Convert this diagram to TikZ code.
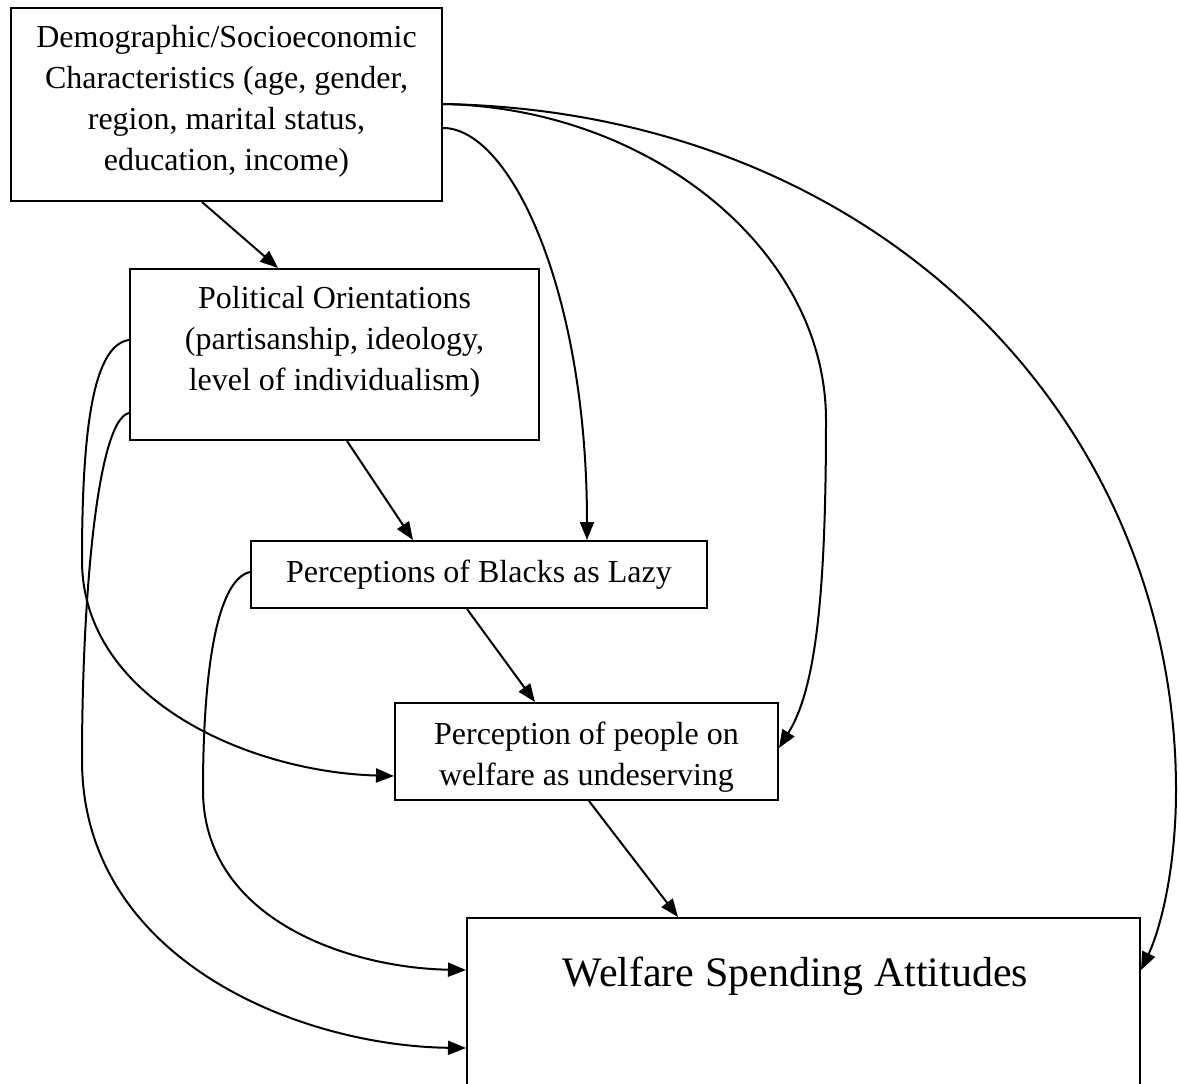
\documentclass[tikz,border=0pt]{standalone}
\usepackage{fontspec}
\setmainfont{Liberation Serif}
\usetikzlibrary{arrows.meta,calc}
\begin{document}
\begin{tikzpicture}[x=1pt,y=-1pt,
  box/.style={draw,line width=2pt,inner sep=0pt,anchor=north west},
  txt/.style={anchor=north,align=center,font=\fontsize{32}{41}\selectfont,inner sep=0pt},
  bigtxt/.style={anchor=center,font=\fontsize{42}{48}\selectfont,inner sep=0pt},
  arr/.style={line width=2pt,-{Triangle[length=18pt,width=14pt]}}]
\useasboundingbox (0,0) rectangle (1179,1084);
\node[box,minimum width=431pt,minimum height=193pt] (b1) at (10,7) {};
\node[box,minimum width=409pt,minimum height=171pt] (b2) at (129,268) {};
\node[box,minimum width=456pt,minimum height=67pt] (b3) at (250,540) {};
\node[box,minimum width=383pt,minimum height=97pt] (b4) at (394,702) {};
\node[box,minimum width=673pt,minimum height=180pt] (b5) at (466,917) {};
\node[txt] (t1) at ($(b1.north)+(0,18)$) {Demographic/Socioeconomic\\Characteristics (age, gender,\\region, marital status,\\education, income)};
\node[txt] (t2) at ($(b2.north)+(0,18)$) {Political Orientations\\(partisanship, ideology,\\level of individualism)};
\node[txt] (t3) at ($(b3.north)+(0,20)$) {Perceptions of Blacks as Lazy};
\node[txt] (t4) at ($(b4.north)+(0,20)$) {Perception of people on\\welfare as undeserving};
\node[bigtxt] (t5) at ($(b5.north)+(-8,59)$) {Welfare Spending Attitudes};
% straight arrows
\draw[arr] ($(b1.south west)+(192,0)$) -- ($(b2.north west)+(149,0)$);
\draw[arr] ($(b2.south west)+(218,0)$) -- ($(b3.north west)+(163,0)$);
\draw[arr] ($(b3.south west)+(217,0)$) -- ($(b4.north west)+(141,0)$);
\draw[arr] ($(b4.south west)+(195,0)$) -- ($(b5.north west)+(212,0)$);
% curved arrows
\draw[arr] ($(b1.north east)+(0,121)$) .. controls (510,128) and (587,290) .. ($(b3.north west)+(337,0)$);
\draw[arr] ($(b1.north east)+(0,97)$) .. controls (650,108) and (826,250) .. (826,420) .. controls (826,600) and (815,690) .. ($(b4.north east)+(0,46)$);
\draw[arr] ($(b1.north east)+(0,97)$) .. controls (880,112) and (1176,420) .. (1176,790) .. controls (1176,870) and (1160,930) .. ($(b5.north east)+(0,53)$);
\draw[arr] ($(b2.north west)+(0,72)$) .. controls (95,345) and (82,420) .. (82,560) .. controls (82,700) and (250,772) .. ($(b4.north west)+(0,74)$);
\draw[arr] ($(b2.north west)+(0,145)$) .. controls (97,420) and (82,600) .. (82,760) .. controls (82,960) and (300,1046) .. ($(b5.north west)+(0,131)$);
\draw[arr] ($(b3.north west)+(0,32)$) .. controls (215,580) and (203,680) .. (203,790) .. controls (203,920) and (350,968) .. ($(b5.north west)+(0,53)$);
\end{tikzpicture}
\end{document}
